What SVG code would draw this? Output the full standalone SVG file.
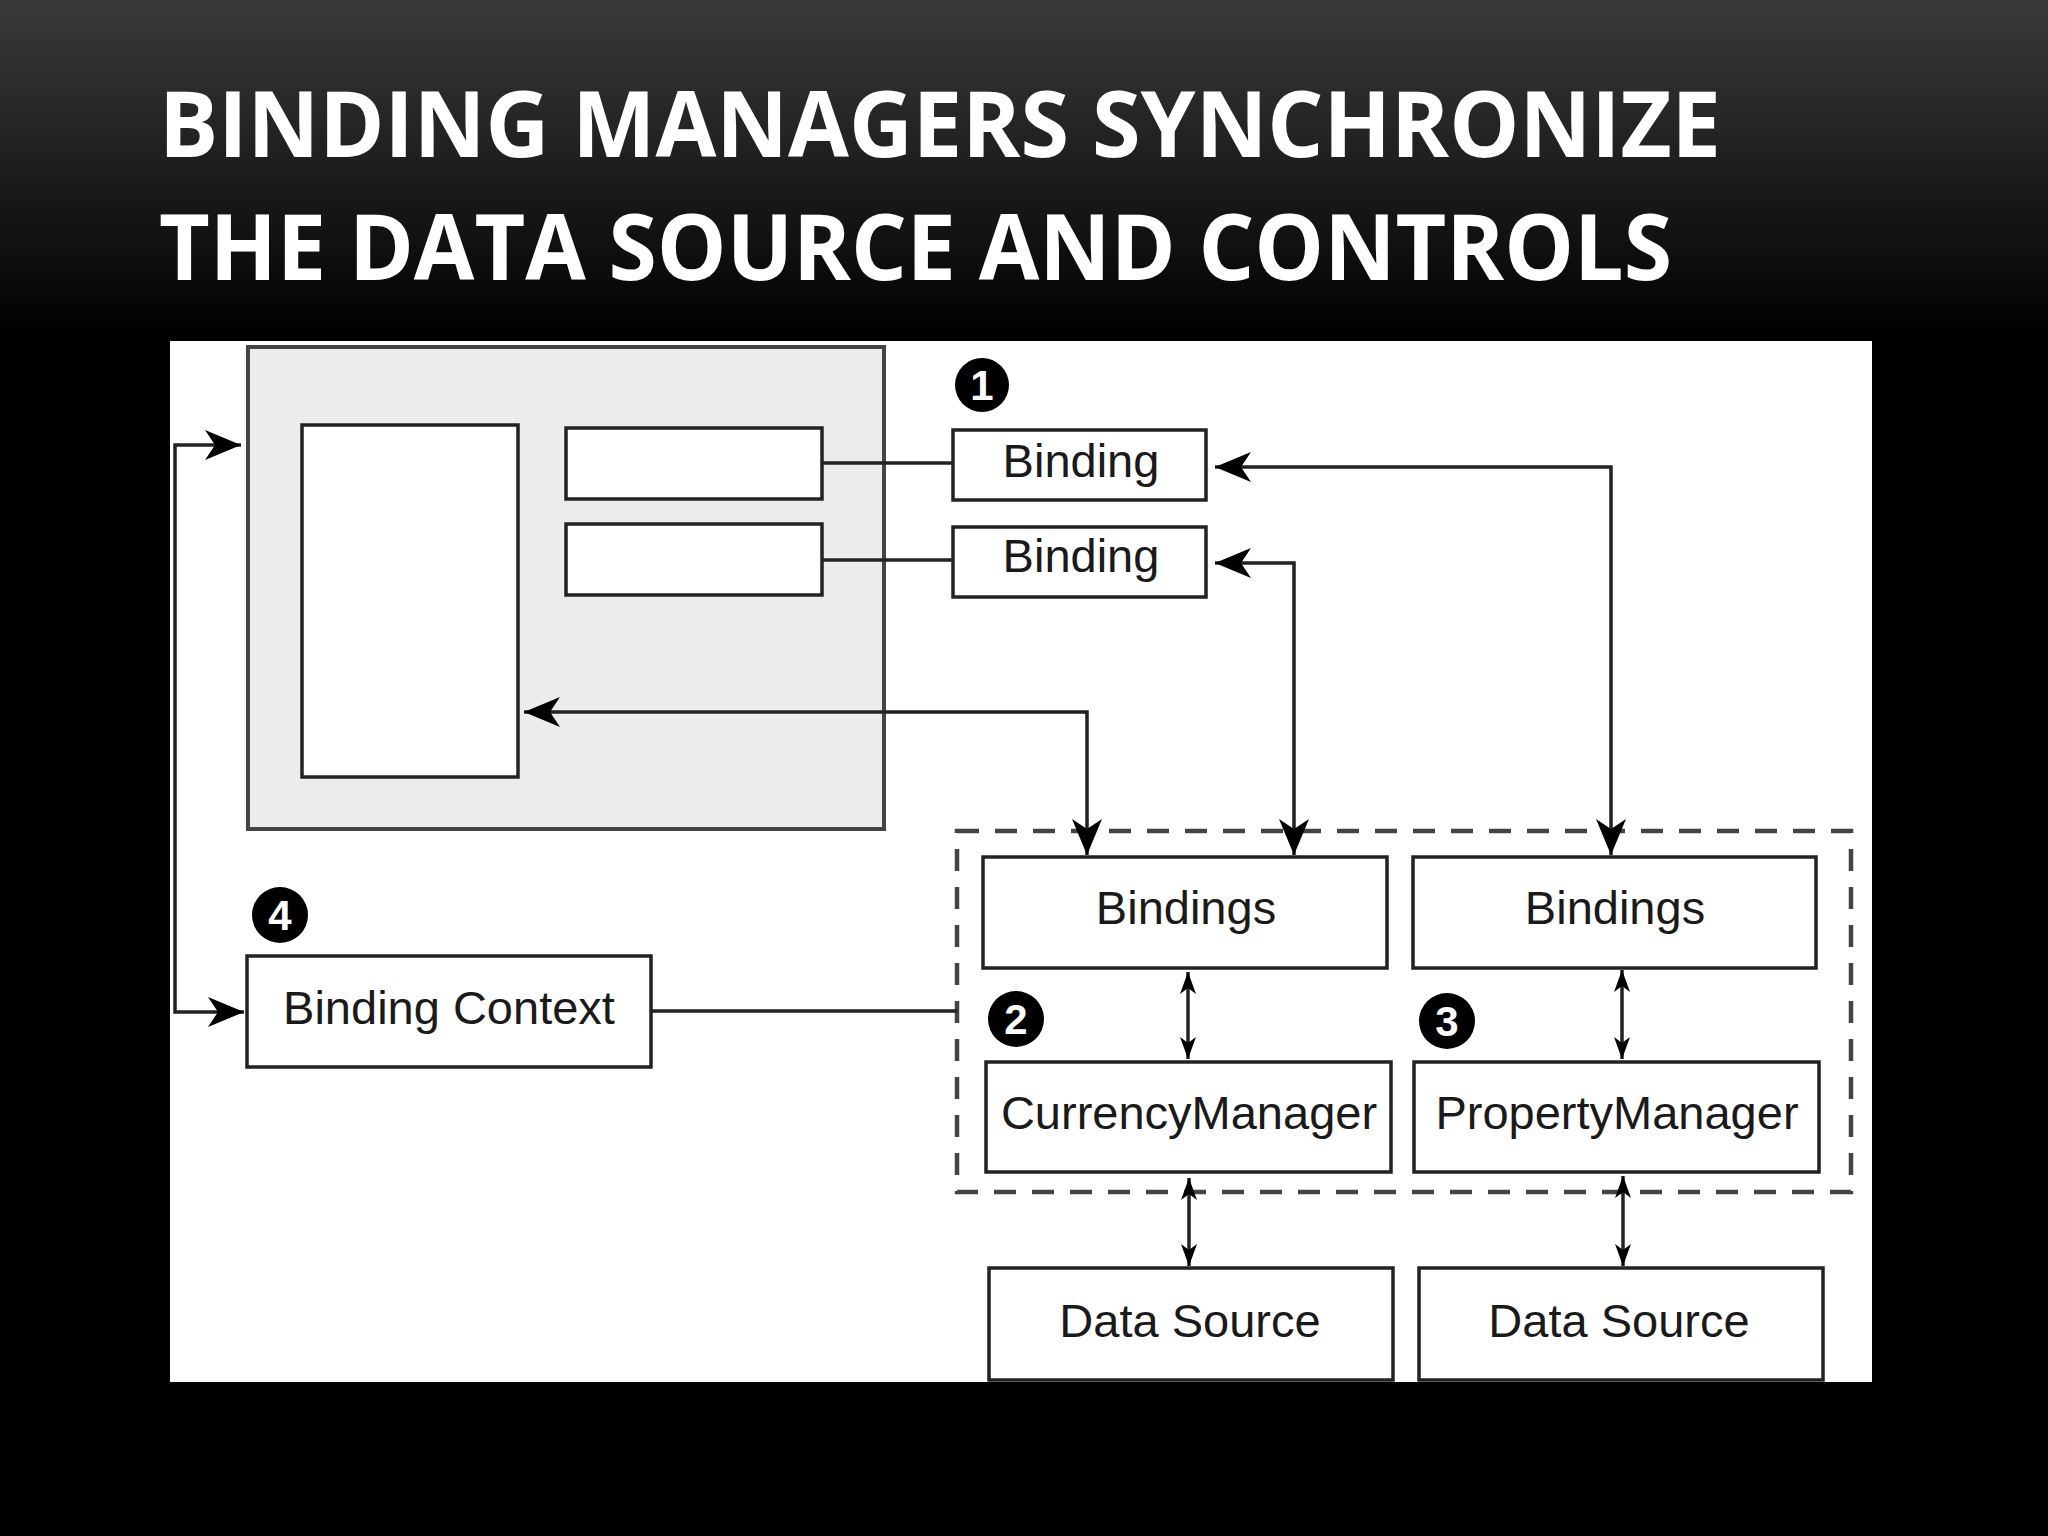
<svg xmlns="http://www.w3.org/2000/svg" width="2048" height="1536" viewBox="0 0 2048 1536">
<defs>
<linearGradient id="bg" x1="0" y1="0" x2="0" y2="1">
<stop offset="0" stop-color="#3a3a3a"/>
<stop offset="1" stop-color="#000000"/>
</linearGradient>
<marker id="ah" markerUnits="userSpaceOnUse" markerWidth="40" markerHeight="36" viewBox="-38 -18 40 36" refX="0" refY="0" orient="auto-start-reverse">
<path d="M0,0 L-36,-15 L-26,0 L-36,15 Z" fill="#000"/>
</marker>
<marker id="sh" markerUnits="userSpaceOnUse" markerWidth="26" markerHeight="20" viewBox="-24 -10 26 20" refX="0" refY="0" orient="auto-start-reverse">
<path d="M0,0 L-22,-8 L-16,0 L-22,8 Z" fill="#000"/>
</marker>
</defs>
<style>
.title{font-family:"Open Sans","Liberation Sans",sans-serif;font-weight:bold;font-size:92px;fill:#fff}
.box{fill:#fff;stroke:#222;stroke-width:3.5}
.lbl{font-family:"Liberation Sans",Arial,sans-serif;font-size:47px;fill:#1a1a1a;text-anchor:middle}
.badge circle{fill:#000}
.badge text{font-family:"Liberation Sans",Arial,sans-serif;font-weight:bold;font-size:42px;fill:#fff;text-anchor:middle}
.ln{fill:none;stroke:#222;stroke-width:3.5}
</style>
<rect x="0" y="0" width="2048" height="340" fill="url(#bg)"/>
<rect x="0" y="340" width="2048" height="1196" fill="#000"/>
<text class="title" x="159" y="157" textLength="1562" lengthAdjust="spacingAndGlyphs">BINDING MANAGERS SYNCHRONIZE</text>
<text class="title" x="159" y="280" textLength="1513" lengthAdjust="spacingAndGlyphs">THE DATA SOURCE AND CONTROLS</text>
<rect x="170" y="341" width="1702" height="1041" fill="#fff"/>

<g id="form">
<rect x="248" y="347" width="636" height="482" fill="#ececec" stroke="#444" stroke-width="4"/>
</g>
<g id="listbox"><rect class="box" x="302" y="425" width="216" height="352"/></g>
<g id="textbox1"><rect class="box" x="566" y="428" width="256" height="71"/></g>
<g id="textbox2"><rect class="box" x="566" y="524" width="256" height="71"/></g>

<g id="badge1" class="badge"><circle cx="982" cy="385" r="27"/><text x="982" y="400">1</text></g>
<g id="binding1"><rect class="box" x="953" y="430" width="253" height="70"/><text class="lbl" x="1081" y="477">Binding</text></g>
<g id="binding2"><rect class="box" x="953" y="527" width="253" height="70"/><text class="lbl" x="1081" y="572">Binding</text></g>

<g id="managers"><rect x="957" y="831" width="894" height="361" fill="none" stroke="#444" stroke-width="4.5" stroke-dasharray="22 16"/></g>
<g id="bindingsL"><rect class="box" x="983" y="857" width="404" height="111"/><text class="lbl" x="1186" y="924">Bindings</text></g>
<g id="bindingsR"><rect class="box" x="1413" y="857" width="403" height="111"/><text class="lbl" x="1615" y="924">Bindings</text></g>
<g id="badge2" class="badge"><circle cx="1016" cy="1019" r="28"/><text x="1016" y="1034">2</text></g>
<g id="badge3" class="badge"><circle cx="1447" cy="1021" r="28"/><text x="1447" y="1036">3</text></g>
<g id="currency"><rect class="box" x="986" y="1062" width="405" height="110"/><text class="lbl" x="1189" y="1129">CurrencyManager</text></g>
<g id="property"><rect class="box" x="1414" y="1062" width="405" height="110"/><text class="lbl" x="1617" y="1129">PropertyManager</text></g>
<g id="datasourceL"><rect class="box" x="989" y="1268" width="404" height="112"/><text class="lbl" x="1190" y="1337">Data Source</text></g>
<g id="datasourceR"><rect class="box" x="1419" y="1268" width="404" height="112"/><text class="lbl" x="1619" y="1337">Data Source</text></g>

<g id="badge4" class="badge"><circle cx="280" cy="915" r="28"/><text x="280" y="930">4</text></g>
<g id="bindingContext"><rect class="box" x="247" y="956" width="404" height="111"/><text class="lbl" x="449" y="1024">Binding Context</text></g>

<g id="connectors">
<path class="ln" d="M822,463 H953"/>
<path class="ln" d="M822,560 H953"/>
<path class="ln" d="M1611,855 V467 H1215" marker-start="url(#ah)" marker-end="url(#ah)"/>
<path class="ln" d="M1294,855 V563 H1215" marker-start="url(#ah)" marker-end="url(#ah)"/>
<path class="ln" d="M1087,855 V712 H524" marker-start="url(#ah)" marker-end="url(#ah)"/>
<path class="ln" d="M652,1011 H957"/>
<path class="ln" d="M241,445 H175 V1012 H244" marker-start="url(#ah)" marker-end="url(#ah)"/>
<path class="ln" d="M1188,972 V1059" marker-start="url(#sh)" marker-end="url(#sh)"/>
<path class="ln" d="M1622,970 V1059" marker-start="url(#sh)" marker-end="url(#sh)"/>
<path class="ln" d="M1189,1178 V1266" marker-start="url(#sh)" marker-end="url(#sh)"/>
<path class="ln" d="M1623,1176 V1266" marker-start="url(#sh)" marker-end="url(#sh)"/>
</g>
</svg>
